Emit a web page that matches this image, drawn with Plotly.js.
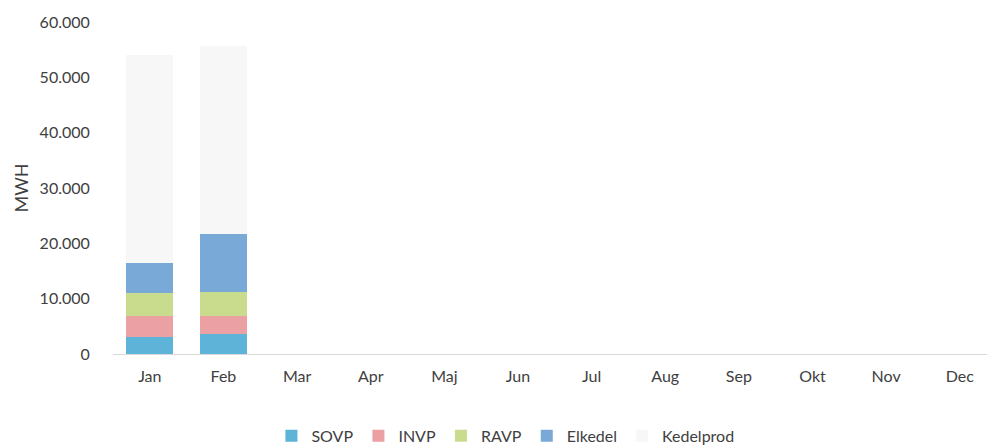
<!DOCTYPE html>
<html>
<head>
<meta charset="utf-8">
<script src="https://cdn.plot.ly/plotly-3.0.1.min.js"></script>
<style>html,body{margin:0;padding:0;background:#fff;}#chart{width:987px;height:448px;}</style>
</head>
<body>
<div id="chart"></div>
<script>
const months = ["Jan","Feb","Mar","Apr","Maj","Jun","Jul","Aug","Sep","Okt","Nov","Dec"];
const sovp      = [3000, 3600, 0,0,0,0,0,0,0,0,0,0];
const invp      = [3900, 3300, 0,0,0,0,0,0,0,0,0,0];
const ravp      = [4100, 4300, 0,0,0,0,0,0,0,0,0,0];
const elkedel   = [5400, 10500, 0,0,0,0,0,0,0,0,0,0];
const kedelprod = [37700, 34000, 0,0,0,0,0,0,0,0,0,0];

const series = [
  {name:"SOVP", y:sovp, color:"#5db3d8"},
  {name:"INVP", y:invp, color:"#eba1a3"},
  {name:"RAVP", y:ravp, color:"#c9dc8e"},
  {name:"Elkedel", y:elkedel, color:"#79aad7"},
  {name:"Kedelprod", y:kedelprod, color:"#f7f7f7"}
];

const traces = series.map(s => ({
  type:"bar", x:months, y:s.y, name:s.name,
  marker:{color:s.color, line:{width:0}},
  hoverinfo:"skip"
}));

const layout = {
  width:987, height:448,
  margin:{l:113, r:0, t:22, b:94},
  barmode:"stack", bargap:0.36,
  separators:",.",
  paper_bgcolor:"#fff", plot_bgcolor:"#fff",
  font:{family:"Lato, 'Open Sans', sans-serif", size:16, color:"#404040"},
  showlegend:true,
  legend:{orientation:"h", x:0.449, xanchor:"center", xref:"paper",
          y:0.027, yanchor:"middle", yref:"container",
          traceorder:"normal", font:{size:16, color:"#404040"}, itemwidth:30},
  xaxis:{range:[-0.5, 11.37], showgrid:false, zeroline:false, showline:true,
         linecolor:"#d9d9d9", linewidth:1, ticks:"", ticklabelstandoff:8,
         automargin:false, tickfont:{size:16, color:"#404040"}, fixedrange:true},
  yaxis:{range:[0,60000], tickvals:[0,10000,20000,30000,40000,50000,60000],
         tickformat:",d", showgrid:false, zeroline:false, showline:false,
         ticks:"outside", ticklen:19, tickcolor:"rgba(0,0,0,0)",
         automargin:false, tickfont:{size:16, color:"#404040"},
         title:{text:"MWH", font:{size:18, color:"#404040"}, standoff:6}}
};

Plotly.newPlot("chart", traces, layout, {displayModeBar:false, staticPlot:true});
</script>
</body>
</html>
